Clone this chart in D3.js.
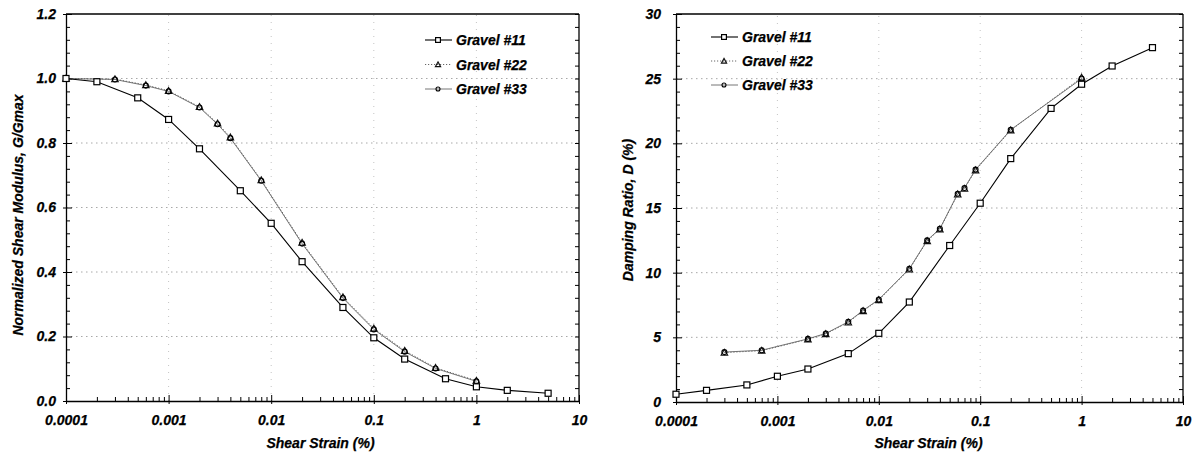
<!DOCTYPE html>
<html>
<head>
<meta charset="utf-8">
<script src="https://cdn.jsdelivr.net/npm/d3@7"></script>
<style>
  html, body { margin: 0; padding: 0; background: #fff; }
  svg { display: block; }
  text { font-family: "Liberation Sans", Arial, sans-serif; font-weight: bold; font-style: italic; fill: #000; stroke: #000; stroke-width: 0.25px; }
</style>
</head>
<body>
<svg id="chart" width="1200" height="461"></svg>
<script>
// Shear strain decades shared by both panels
const strainTicks = [0.0001, 0.001, 0.01, 0.1, 1, 10];
const strainTickLabels = ["0.0001", "0.001", "0.01", "0.1", "1", "10"];

// Normalized shear modulus G/Gmax
const modTicks = [0, 0.2, 0.4, 0.6, 0.8, 1.0, 1.2];
const strainMod11 = [0.0001, 0.0002, 0.0005, 0.001, 0.002, 0.005, 0.01, 0.02, 0.05, 0.1, 0.2, 0.5, 1, 2, 5];
const mod11 = [1.0, 0.99, 0.94, 0.873, 0.782, 0.652, 0.551, 0.432, 0.29, 0.196, 0.13, 0.069, 0.044, 0.033, 0.024];
const strainMod22 = [0.0001, 0.0003, 0.0006, 0.001, 0.002, 0.003, 0.004, 0.008, 0.02, 0.05, 0.1, 0.2, 0.4, 1];
const mod22 = [1.0, 0.998, 0.98, 0.962, 0.912, 0.861, 0.818, 0.685, 0.491, 0.322, 0.225, 0.156, 0.103, 0.063];
const strainMod33 = [0.0001, 0.0003, 0.0006, 0.001, 0.002, 0.003, 0.004, 0.008, 0.02, 0.05, 0.1, 0.2, 0.4, 1];
const mod33 = [1.0, 0.997, 0.978, 0.96, 0.91, 0.858, 0.815, 0.683, 0.488, 0.319, 0.222, 0.153, 0.101, 0.061];

// Damping ratio D (%)
const dampTicks = [0, 5, 10, 15, 20, 25, 30];
const strainDamp11 = [0.0001, 0.0002, 0.0005, 0.001, 0.002, 0.005, 0.01, 0.02, 0.05, 0.1, 0.2, 0.5, 1, 2, 5];
const damp11 = [0.6, 0.9, 1.32, 1.99, 2.55, 3.74, 5.31, 7.73, 12.1, 15.37, 18.82, 22.7, 24.57, 25.98, 27.4];
const strainDamp22 = [0.0003, 0.0007, 0.002, 0.003, 0.005, 0.007, 0.01, 0.02, 0.03, 0.04, 0.06, 0.07, 0.09, 0.2, 1];
const damp22 = [3.82, 3.97, 4.85, 5.26, 6.16, 7.04, 7.89, 10.26, 12.45, 13.36, 16.06, 16.5, 17.92, 21.01, 25.09];
const strainDamp33 = [0.0003, 0.0007, 0.002, 0.003, 0.005, 0.007, 0.01, 0.02, 0.03, 0.04, 0.06, 0.07, 0.09, 0.2, 1];
const damp33 = [3.86, 4.0, 4.88, 5.3, 6.2, 7.08, 7.93, 10.3, 12.5, 13.4, 16.1, 16.55, 17.97, 21.05, 25.0];

const seriesNames = ["Gravel #11", "Gravel #22", "Gravel #33"];

const svg = d3.select("#chart");
svg.append("rect").attr("width", 1200).attr("height", 461).attr("fill", "#fff");

const seriesStyle = [
  { stroke: "#000", width: 1.1, dash: null, marker: "square" },
  { stroke: "#666", width: 1, dash: "1.2,1.8", marker: "triangle" },
  { stroke: "#666", width: 0.9, dash: null, marker: "circle" }
];

function drawMarker(g, type, x, y, scale = 1) {
  if (type === "square") {
    const h = 3 * scale;
    g.append("rect").attr("x", x - h).attr("y", y - h).attr("width", 2 * h).attr("height", 2 * h)
      .attr("fill", "#fff").attr("stroke", "#000").attr("stroke-width", 1.2);
  } else if (type === "triangle") {
    const s = 3.3 * scale;
    g.append("path").attr("d", `M${x},${y - s}L${x + s},${y + s * 0.8}L${x - s},${y + s * 0.8}Z`)
      .attr("fill", "none").attr("stroke", "#111").attr("stroke-width", 1.1);
  } else {
    g.append("circle").attr("cx", x).attr("cy", y).attr("r", 2.5 * scale)
      .attr("fill", "none").attr("stroke", "#000").attr("stroke-width", 1.1);
  }
}

function minorLogTicks() {
  const out = [];
  for (let e = -4; e < 1; e++) for (let m = 2; m <= 9; m++) out.push(m * Math.pow(10, e));
  return out;
}

function drawPanel(cfg) {
  const x = d3.scaleLog().domain([1e-4, 10]).range([cfg.x0, cfg.x1]);
  const y = d3.scaleLinear().domain(cfg.yDomain).range([cfg.y0, cfg.y1]);
  const g = svg.append("g");

  // dotted gridlines
  const grid = g.append("g").attr("stroke", "#a8a8a8").attr("stroke-width", 1).attr("stroke-dasharray", "1.5,3.5");
  cfg.yTicks.slice(1, -1).forEach(v => {
    grid.append("line").attr("x1", cfg.x0).attr("x2", cfg.x1).attr("y1", y(v)).attr("y2", y(v));
  });
  strainTicks.slice(1, -1).forEach(v => {
    grid.append("line").attr("x1", x(v)).attr("x2", x(v)).attr("y1", cfg.y0).attr("y2", cfg.y1)
      .attr("stroke", "#c4c4c4").attr("stroke-dasharray", "1,6");
  });

  // frame: top and right borders
  g.append("line").attr("x1", cfg.x0).attr("x2", cfg.x1).attr("y1", cfg.y1).attr("y2", cfg.y1)
    .attr("stroke", "#000").attr("stroke-width", 1.3);
  g.append("line").attr("x1", cfg.x1).attr("x2", cfg.x1).attr("y1", cfg.y1).attr("y2", cfg.y0)
    .attr("stroke", "#000").attr("stroke-width", 1.3);

  // bottom axis: major decades with labels, minor ticks pointing inward
  const xMajor = d3.axisBottom(x).tickValues(strainTicks)
    .tickFormat((d, i) => strainTickLabels[i]).tickSizeInner(-6).tickSizeOuter(0).tickPadding(16);
  const xa = g.append("g").attr("transform", `translate(0,${cfg.y0})`).call(xMajor);
  xa.selectAll("text").attr("font-size", 14).attr("dy", "0.6em");
  xa.selectAll(".tick line").attr("y1", 3);
  const xMinor = d3.axisBottom(x).tickValues(minorLogTicks()).tickFormat("").tickSizeInner(-4).tickSizeOuter(0);
  g.append("g").attr("transform", `translate(0,${cfg.y0})`).call(xMinor).select(".domain").remove();

  // left axis
  const yMajor = d3.axisLeft(y).tickValues(cfg.yTicks).tickFormat(cfg.yFormat)
    .tickSizeInner(-6).tickSizeOuter(0).tickPadding(cfg.yPad);
  const ya = g.append("g").attr("transform", `translate(${cfg.x0},0)`).call(yMajor);
  ya.selectAll("text").attr("font-size", 14);
  ya.selectAll(".tick line").attr("x1", -3);
  const yMinor = d3.axisLeft(y).tickValues(cfg.yMinor).tickFormat("").tickSizeInner(-4).tickSizeOuter(0);
  g.append("g").attr("transform", `translate(${cfg.x0},0)`).call(yMinor).select(".domain").remove();

  // right border mirror ticks
  const yRight = d3.axisRight(y).tickValues(cfg.yMinor.concat(cfg.yTicks)).tickFormat("").tickSizeInner(-4).tickSizeOuter(0);
  g.append("g").attr("transform", `translate(${cfg.x1},0)`).call(yRight).select(".domain").remove();

  g.selectAll(".domain").attr("stroke-width", 1.3);

  // series lines and markers
  const line = d3.line().x(d => x(d[0])).y(d => y(d[1]));
  const order = [1, 2, 0];
  order.forEach(k => {
    const pts = cfg.series[k][0].map((s, i) => [s, cfg.series[k][1][i]]);
    const st = seriesStyle[k];
    g.append("path").datum(pts).attr("d", line).attr("fill", "none")
      .attr("stroke", st.stroke).attr("stroke-width", st.width)
      .attr("stroke-dasharray", st.dash);
  });
  order.forEach(k => {
    const pts = cfg.series[k][0].map((s, i) => [s, cfg.series[k][1][i]]);
    const mg = g.append("g");
    pts.forEach(p => drawMarker(mg, seriesStyle[k].marker, x(p[0]), y(p[1])));
  });

  // legend
  const lg = g.append("g");
  seriesNames.forEach((name, i) => {
    const ly = cfg.legY + i * cfg.legStep;
    const st = seriesStyle[i];
    lg.append("line").attr("x1", cfg.legX).attr("x2", cfg.legX + 27).attr("y1", ly).attr("y2", ly)
      .attr("stroke", st.stroke).attr("stroke-width", st.width).attr("stroke-dasharray", st.dash);
    drawMarker(lg, st.marker, cfg.legX + 13, ly, 0.8);
    lg.append("text").attr("x", cfg.legX + 31).attr("y", ly).attr("dy", "0.36em")
      .attr("font-size", 14).text(name);
  });

  // axis titles
  g.append("text").attr("x", (cfg.x0 + cfg.x1) / 2 + cfg.xTitleShift).attr("y", 448)
    .attr("text-anchor", "middle").attr("font-size", 14).text("Shear Strain (%)");
  g.append("text").attr("transform", `translate(${cfg.yTitleX},${cfg.yTitleY}) rotate(-90)`)
    .attr("text-anchor", "middle").attr("font-size", 14).text(cfg.yTitle);
}

drawPanel({
  x0: 66, x1: 579, y0: 401, y1: 14,
  yDomain: [0, 1.2], yTicks: modTicks, yFormat: d3.format(".1f"), yPad: 10,
  yMinor: d3.range(0, 1.2001, 0.04).filter(v => Math.abs(v / 0.2 - Math.round(v / 0.2)) > 1e-6),
  series: [[strainMod11, mod11], [strainMod22, mod22], [strainMod33, mod33]],
  legX: 425, legY: 40, legStep: 24.5,
  xTitleShift: -2, yTitleX: 23, yTitleY: 215,
  yTitle: "Normalized Shear Modulus, G/Gmax"
});

drawPanel({
  x0: 676, x1: 1183, y0: 402, y1: 14,
  yDomain: [0, 30], yTicks: dampTicks, yFormat: d3.format("d"), yPad: 15,
  yMinor: d3.range(0, 30.001, 1).filter(v => v % 5 !== 0),
  series: [[strainDamp11, damp11], [strainDamp22, damp22], [strainDamp33, damp33]],
  legX: 711, legY: 37, legStep: 24,
  xTitleShift: -1, yTitleX: 633, yTitleY: 210,
  yTitle: "Damping Ratio, D (%)"
});
</script>
</body>
</html>
